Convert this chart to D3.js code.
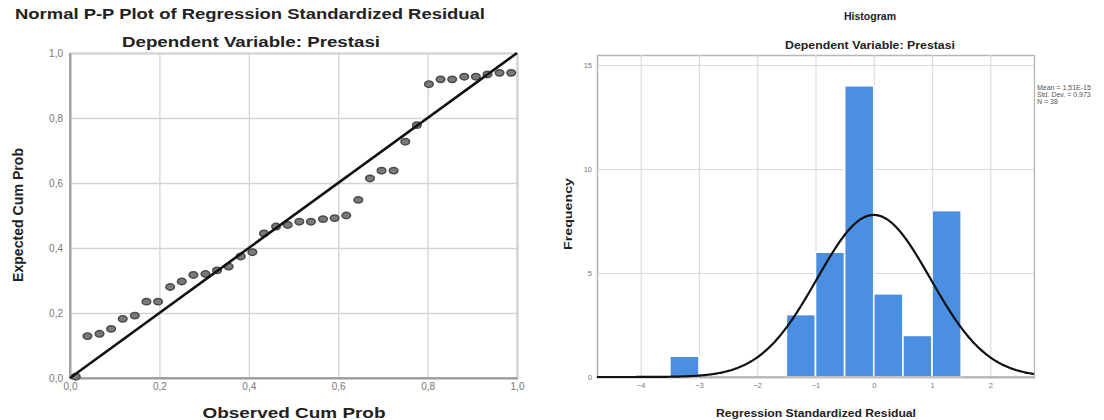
<!DOCTYPE html>
<html>
<head>
<meta charset="utf-8">
<script src="https://cdn.jsdelivr.net/npm/d3@7"></script>
<style>
  body { margin: 0; background: #fff; }
  text { font-family: "Liberation Sans", Arial, sans-serif; }
</style>
</head>
<body>
<svg id="chart" width="1104" height="420"></svg>
<script>
// Normal P-P plot: observed vs expected cumulative probability (38 residuals)
const observedCum = [0.013, 0.039, 0.066, 0.092, 0.118, 0.145, 0.171, 0.197, 0.224, 0.250,
  0.276, 0.303, 0.329, 0.355, 0.382, 0.408, 0.434, 0.461, 0.487, 0.513,
  0.539, 0.566, 0.592, 0.618, 0.645, 0.671, 0.697, 0.724, 0.750, 0.776,
  0.803, 0.829, 0.855, 0.882, 0.908, 0.934, 0.961, 0.987];
const expectedCum = [0.004, 0.129, 0.136, 0.151, 0.182, 0.192, 0.235, 0.235, 0.280, 0.297,
  0.317, 0.320, 0.331, 0.343, 0.374, 0.387, 0.445, 0.466, 0.471, 0.481,
  0.481, 0.489, 0.492, 0.500, 0.548, 0.614, 0.638, 0.638, 0.727, 0.778,
  0.904, 0.919, 0.919, 0.927, 0.927, 0.934, 0.939, 0.939];
const ppTicks = [0, 0.2, 0.4, 0.6, 0.8, 1.0];

// Histogram of the regression standardized residual
const binStarts = [-3.5, -1.5, -1.0, -0.5, 0.0, 0.5, 1.0];
const binCounts = [1, 3, 6, 14, 4, 2, 8];
const binWidth = 0.5;
const histXTicks = [-4, -3, -2, -1, 0, 1, 2];
const histYTicks = [0, 5, 10, 15];
const residMean = 1.51e-15;
const residSd = 0.973;
const residN = 38;
const legendLines = ["Mean = 1,51E-15", "Std. Dev. = 0,973", "N = 38"];

const svg = d3.select("#chart");
const comma = d => d3.format(".1f")(d).replace(".", ",");

// ---------- left panel: P-P plot ----------
const ppX = d3.scaleLinear([0, 1], [70, 517]);
const ppY = d3.scaleLinear([0, 1], [378, 53]);
const pp = svg.append("g");

pp.append("g")
  .attr("transform", "translate(70,0)")
  .call(d3.axisLeft(ppY).tickValues(ppTicks).tickFormat(comma)
    .tickSize(-(517 - 70)).tickPadding(7))
  .call(g => g.select(".domain").attr("stroke", "#9a9a9a").attr("stroke-width", 1.6))
  .call(g => g.selectAll(".tick line").attr("stroke", "#d4d4d4").attr("stroke-width", 1.3))
  .call(g => g.selectAll(".tick text").attr("fill", "#777").attr("font-size", 10));

pp.append("g")
  .attr("transform", "translate(0,378)")
  .call(d3.axisBottom(ppX).tickValues(ppTicks).tickFormat(comma)
    .tickSize(-(378 - 53)).tickPadding(5))
  .call(g => g.select(".domain").attr("stroke", "#9a9a9a").attr("stroke-width", 1.6))
  .call(g => g.selectAll(".tick line").attr("stroke", "#d4d4d4").attr("stroke-width", 1.3))
  .call(g => g.selectAll(".tick text").attr("fill", "#777").attr("font-size", 10));

// re-draw axis lines on top of gridlines
pp.append("line").attr("x1", 70).attr("x2", 70).attr("y1", 53).attr("y2", 378)
  .attr("stroke", "#9a9a9a").attr("stroke-width", 1.6);
pp.append("line").attr("x1", 70).attr("x2", 517).attr("y1", 378).attr("y2", 378)
  .attr("stroke", "#9a9a9a").attr("stroke-width", 1.6);

pp.selectAll("ellipse.pt")
  .data(observedCum.map((o, i) => [o, expectedCum[i]]))
  .join("ellipse")
  .attr("class", "pt")
  .attr("cx", d => ppX(d[0]))
  .attr("cy", d => ppY(d[1]))
  .attr("rx", 4.3).attr("ry", 3.2)
  .attr("fill", "#7a7a7a")
  .attr("stroke", "#4a4a4a")
  .attr("stroke-width", 1.5);

pp.append("line")
  .attr("x1", ppX(0)).attr("y1", ppY(0))
  .attr("x2", ppX(1)).attr("y2", ppY(1))
  .attr("stroke", "#111").attr("stroke-width", 2.6);

pp.append("text").attr("x", 250).attr("y", 19).attr("text-anchor", "middle")
  .attr("font-size", 14).attr("font-weight", "bold").attr("fill", "#222")
  .attr("textLength", 470).attr("lengthAdjust", "spacingAndGlyphs")
  .text("Normal P-P Plot of Regression Standardized Residual");
pp.append("text").attr("x", 251).attr("y", 47).attr("text-anchor", "middle")
  .attr("font-size", 14).attr("font-weight", "bold").attr("fill", "#222")
  .attr("textLength", 258).attr("lengthAdjust", "spacingAndGlyphs")
  .text("Dependent Variable: Prestasi");
pp.append("text").attr("x", 294).attr("y", 418).attr("text-anchor", "middle")
  .attr("font-size", 14).attr("font-weight", "bold").attr("fill", "#222")
  .attr("textLength", 183).attr("lengthAdjust", "spacingAndGlyphs")
  .text("Observed Cum Prob");
pp.append("text").attr("transform", "translate(23,215) rotate(-90)")
  .attr("text-anchor", "middle")
  .attr("font-size", 15).attr("font-weight", "bold").attr("fill", "#222")
  .attr("textLength", 134).attr("lengthAdjust", "spacingAndGlyphs")
  .text("Expected Cum Prob");

// ---------- right panel: histogram ----------
const hx = d3.scaleLinear([-4.75, 2.75], [597, 1034]);
const hy = d3.scaleLinear([0, 15.48], [377, 55]);
const hist = svg.append("g");

hist.append("g")
  .attr("transform", "translate(597,0)")
  .call(d3.axisLeft(hy).tickValues(histYTicks).tickSize(-(1034 - 597)).tickPadding(5))
  .call(g => g.select(".domain").attr("stroke", "#b5b5b5").attr("stroke-width", 1.3))
  .call(g => g.selectAll(".tick line").attr("stroke", "#dcdcdc").attr("stroke-width", 1.2))
  .call(g => g.selectAll(".tick text").attr("fill", "#777").attr("font-size", 7.5));

hist.append("g")
  .attr("transform", "translate(0,377)")
  .call(d3.axisBottom(hx).tickValues(histXTicks).tickSize(-(377 - 55)).tickPadding(6))
  .call(g => g.select(".domain").attr("stroke", "#b5b5b5").attr("stroke-width", 1.3))
  .call(g => g.selectAll(".tick line").attr("stroke", "#dcdcdc").attr("stroke-width", 1.2))
  .call(g => g.selectAll(".tick text").attr("fill", "#777").attr("font-size", 7.5));

hist.selectAll("rect.bar")
  .data(binStarts.map((s, i) => ({ s, c: binCounts[i] })))
  .join("rect")
  .attr("class", "bar")
  .attr("x", d => hx(d.s))
  .attr("width", d => hx(d.s + binWidth) - hx(d.s))
  .attr("y", d => hy(d.c))
  .attr("height", d => hy(0) - hy(d.c))
  .attr("fill", "#4a8fe1")
  .attr("stroke", "#fff")
  .attr("stroke-width", 1.6);

hist.append("line").attr("x1", 597).attr("x2", 1034).attr("y1", 377).attr("y2", 377)
  .attr("stroke", "#b5b5b5").attr("stroke-width", 1.3);

// normal curve from the reported mean, std. dev. and N
const normalPts = d3.range(-4.75, 2.7501, 0.02).map(v => {
  const z = (v - residMean) / residSd;
  return [v, residN * binWidth * Math.exp(-0.5 * z * z) / (residSd * Math.sqrt(2 * Math.PI))];
});
hist.append("path")
  .datum(normalPts)
  .attr("fill", "none")
  .attr("stroke", "#111")
  .attr("stroke-width", 2.2)
  .attr("d", d3.line().x(d => hx(d[0])).y(d => hy(d[1])));

hist.append("text").attr("x", 870).attr("y", 20).attr("text-anchor", "middle")
  .attr("font-size", 11).attr("font-weight", "bold").attr("fill", "#222")
  .attr("textLength", 52).attr("lengthAdjust", "spacingAndGlyphs")
  .text("Histogram");
hist.append("text").attr("x", 870).attr("y", 49).attr("text-anchor", "middle")
  .attr("font-size", 11).attr("font-weight", "bold").attr("fill", "#222")
  .attr("textLength", 170).attr("lengthAdjust", "spacingAndGlyphs")
  .text("Dependent Variable: Prestasi");
hist.append("text").attr("x", 816).attr("y", 417).attr("text-anchor", "middle")
  .attr("font-size", 11).attr("font-weight", "bold").attr("fill", "#222")
  .attr("textLength", 200).attr("lengthAdjust", "spacingAndGlyphs")
  .text("Regression Standardized Residual");
hist.append("text").attr("transform", "translate(572,214) rotate(-90)")
  .attr("text-anchor", "middle")
  .attr("font-size", 11).attr("font-weight", "bold").attr("fill", "#222")
  .attr("textLength", 72).attr("lengthAdjust", "spacingAndGlyphs")
  .text("Frequency");

hist.selectAll("text.legend")
  .data(legendLines)
  .join("text")
  .attr("class", "legend")
  .attr("x", 1037)
  .attr("y", (d, i) => 90 + i * 7)
  .attr("font-size", 7)
  .attr("fill", "#555")
  .text(d => d);
</script>
</body>
</html>
